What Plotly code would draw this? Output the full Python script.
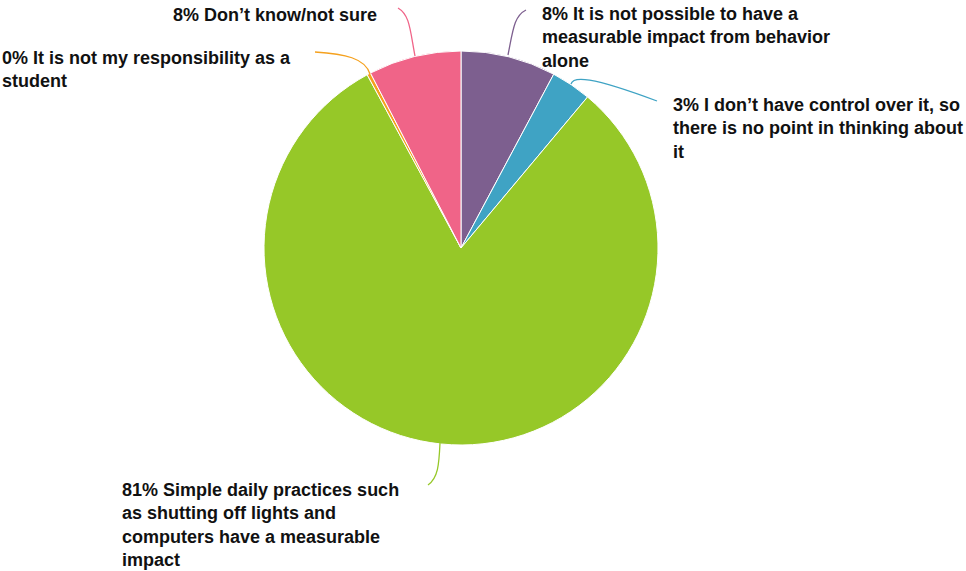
import plotly.graph_objects as go

W, H = 966, 571

labels = [
    "It is not possible to have a measurable impact from behavior alone",
    "I don’t have control over it, so there is no point in thinking about it",
    "Simple daily practices such as shutting off lights and computers have a measurable impact",
    "It is not my responsibility as a student",
    "Don’t know/not sure",
]
values = [7.8, 3.3, 81.0, 0.3, 7.6]
pct_labels = ["8%", "3%", "81%", "0%", "8%"]
label_lines = [
    ["It is not possible to have a", "measurable impact from behavior", "alone"],
    ["I don’t have control over it, so", "there is no point in thinking about", "it"],
    ["Simple daily practices such", "as shutting off lights and", "computers have a measurable", "impact"],
    ["It is not my responsibility as a", "student"],
    ["Don’t know/not sure"],
]
colors = ["#7D5F8F", "#3FA3C4", "#96C828", "#F5A11E", "#F06488"]

# layout in window pixels
cx, cy, r = 461, 248, 197

def px(x):
    return x / W

def py(y):
    return 1 - y / H

fig = go.Figure(go.Pie(
    labels=labels,
    values=values,
    sort=False,
    direction="clockwise",
    rotation=0,
    textinfo="none",
    hoverinfo="label+percent",
    marker=dict(colors=colors, line=dict(color="white", width=1)),
    domain=dict(x=[px(cx - r), px(cx + r)], y=[py(cy + r), py(cy - r)]),
    showlegend=False,
))

# leader lines (pixel paths)
leaders = [
    [(508, 55), (513, 30), (514, 16), (526, 10)],
    [(571, 84), (573, 76), (590, 76), (657, 101)],
    [(440, 443), (439, 465), (438, 478), (428, 485)],
    [(370, 74), (365, 58), (345, 54), (315, 52)],
    [(415, 56), (410, 30), (410, 15), (398, 8)],
]
shapes = []
for pts, c in zip(leaders, colors):
    p0, p1, p2, p3 = pts
    path = "M {} {} C {} {}, {} {}, {} {}".format(
        px(p0[0]), py(p0[1]), px(p1[0]), py(p1[1]),
        px(p2[0]), py(p2[1]), px(p3[0]), py(p3[1]))
    shapes.append(dict(type="path", xref="paper", yref="paper", path=path,
                       line=dict(color=c, width=1.3)))

# label anchors (x, y-center, xanchor) in pixels
anchors = [
    (541, 38, "left"),
    (672, 128, "left"),
    (121, 525, "left"),
    (1, 70, "left"),
    (378, 15, "right"),
]
annotations = []
for pl, lines, (ax, ay, xa) in zip(pct_labels, label_lines, anchors):
    text = "<br>".join([pl + " " + lines[0]] + lines[1:])
    annotations.append(dict(
        x=px(ax), y=py(ay), xref="paper", yref="paper",
        xanchor=xa, yanchor="middle", align="left", showarrow=False,
        borderpad=0,
        text="<b>" + text + "</b>",
        font=dict(family="Liberation Sans, Arial, sans-serif", size=18, color="#111111"),
    ))

fig.update_layout(
    width=W, height=H,
    margin=dict(l=0, r=0, t=0, b=0),
    paper_bgcolor="white", plot_bgcolor="white",
    shapes=shapes, annotations=annotations,
)

fig.write_html(
    "out.html",
    config={"displayModeBar": False},
    post_script="document.body.style.margin='0';document.body.style.overflow='hidden';",
)
